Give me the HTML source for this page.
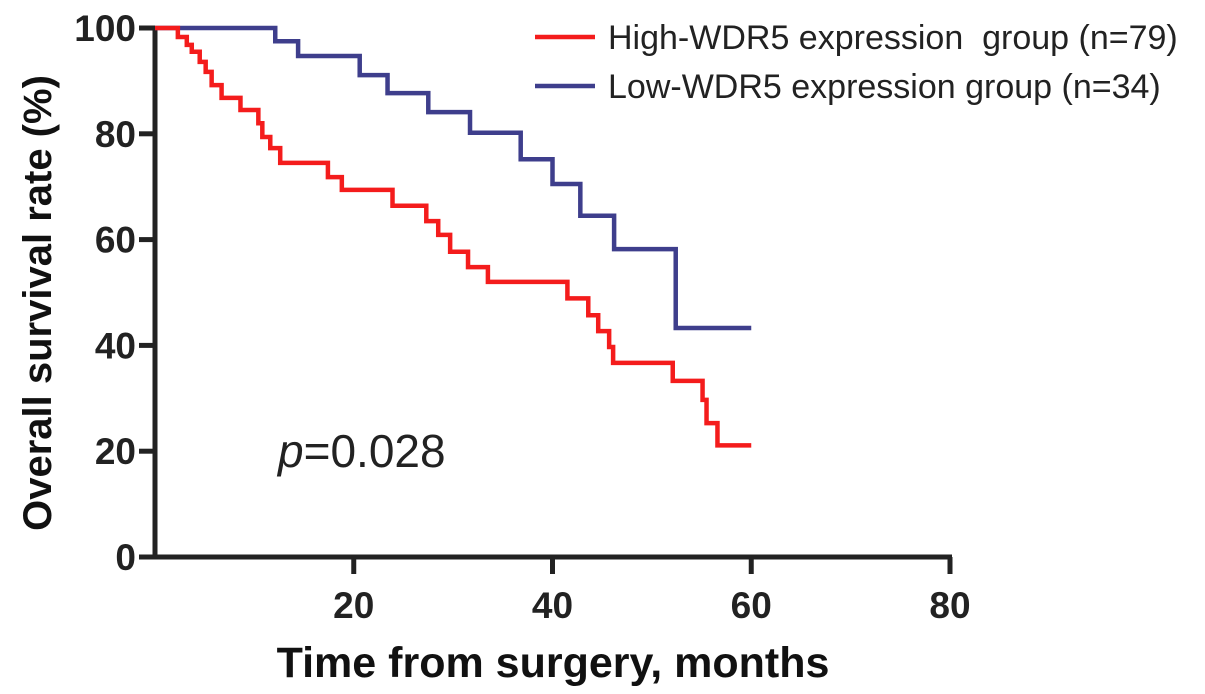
<!DOCTYPE html>
<html><head><meta charset="utf-8"><style>
html,body{margin:0;padding:0;background:#fff;}
svg{display:block;font-family:"Liberation Sans",Arial,sans-serif;}
</style></head><body>
<svg id="chart" width="1205" height="694">
<g id="axes"></g>
<g id="series"></g>
<text x="278" y="467" font-size="46" fill="#222"><tspan font-style="italic">p</tspan>=0.028</text>
<g>
<line x1="535" y1="37" x2="595" y2="37" stroke="#f41c1c" stroke-width="4.5"/>
<text x="608" y="49" font-size="34" fill="#222" xml:space="preserve">High-WDR5 expression  group (n=79)</text>
<line x1="535" y1="86" x2="595" y2="86" stroke="#3e3e8c" stroke-width="4.5"/>
<text x="608" y="98" font-size="34" fill="#222">Low-WDR5 expression group (n=34)</text>
</g>
<text x="553" y="677" font-size="43" font-weight="bold" text-anchor="middle" fill="#111">Time from surgery, months</text>
<text transform="translate(51,303) rotate(-90)" font-size="40" font-weight="bold" text-anchor="middle" fill="#111">Overall survival rate (%)</text>
</svg>
<script>
const xTicks = [20, 40, 60, 80];
const yTicks = [0, 20, 40, 60, 80, 100];
const highTimes = [2.3,3.2,3.7,4.5,5.1,5.7,6.7,8.6,10.4,10.8,11.6,12.6,17.4,18.8,23.9,27.3,28.5,29.7,31.5,33.5,41.5,43.6,44.6,45.7,46.1,52.1,55.1,55.5,56.6];
const highSurv = [98.3,96.8,95.5,93.6,91.7,89.2,86.8,84.5,82.0,79.4,77.3,74.5,71.8,69.4,66.4,63.5,60.9,57.7,54.8,52.0,48.9,45.7,42.7,39.7,36.7,33.3,29.7,25.3,21.1];
const highEnd = 60;
const lowTimes = [12.1,14.4,20.6,23.4,27.5,31.7,36.8,40.0,42.8,46.2,52.4];
const lowSurv = [97.5,94.7,91.1,87.7,84.1,80.2,75.2,70.5,64.5,58.2,43.3];
const lowEnd = 60;

const NS = "http://www.w3.org/2000/svg";
const X0 = 155, X1 = 950, Y0 = 557, Y1 = 28;
function sx(t){ return X0 + t * (X1 - X0) / 80; }
function sy(s){ return Y0 - s * (Y0 - Y1) / 100; }
function mk(tag, attrs, parent){
  const e = document.createElementNS(NS, tag);
  for (const k in attrs) e.setAttribute(k, attrs[k]);
  parent.appendChild(e);
  return e;
}
const axes = document.getElementById('axes');
let l = mk('line', {x1:X0, y1:Y1-2, x2:X0, y2:Y0+2, stroke:'#222', 'stroke-width':5}, axes);


l = mk('line', {x1:X0-2, y1:Y0, x2:X1+2, y2:Y0, stroke:'#222', 'stroke-width':5}, axes);


yTicks.forEach(v => {
  const t = mk('line', {x1:139, y1:sy(v), x2:X0, y2:sy(v), stroke:'#222', 'stroke-width':5}, axes);
  
  
  const tx = mk('text', {x:136, y:sy(v)+13, 'font-size':37, 'font-weight':'bold', 'text-anchor':'end', fill:'#222'}, axes);
  tx.textContent = v;
  
  
});
xTicks.forEach(v => {
  const t = mk('line', {x1:sx(v), y1:Y0, x2:sx(v), y2:574, stroke:'#222', 'stroke-width':5}, axes);
  
  
  const tx = mk('text', {x:sx(v), y:618, 'font-size':37, 'font-weight':'bold', 'text-anchor':'middle', fill:'#222'}, axes);
  tx.textContent = v;
  
  
});
function stepPath(times, surv, end){
  let d = 'M' + sx(0) + ',' + sy(100);
  for (let i = 0; i < times.length; i++){
    d += ' H' + sx(times[i]) + ' V' + sy(surv[i]);
  }
  d += ' H' + sx(end);
  return d;
}
const series = document.getElementById('series');
const pl = mk('path', {d:stepPath(lowTimes, lowSurv, lowEnd), fill:'none', stroke:'#3e3e8c', 'stroke-width':4.5}, series);


const ph = mk('path', {d:stepPath(highTimes, highSurv, highEnd), fill:'none', stroke:'#f41c1c', 'stroke-width':4.5}, series);


</script>
</body></html>
